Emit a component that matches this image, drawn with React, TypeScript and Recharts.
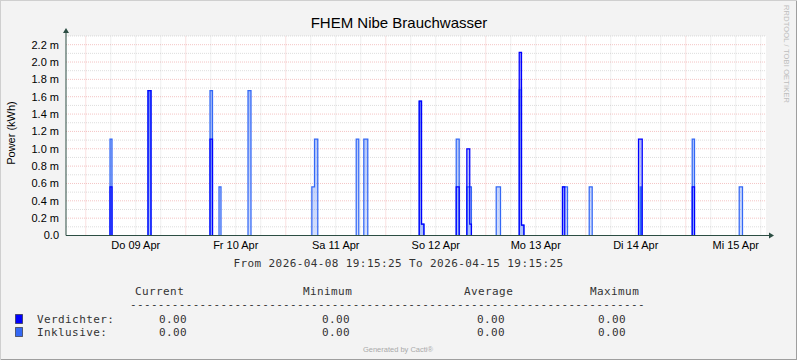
import React from "react";
import {
  ComposedChart,
  Line,
  Area,
  XAxis,
  YAxis,
  CartesianGrid,
  ReferenceLine,
  ReferenceDot,
} from "recharts";

const title = "FHEM Nibe Brauchwasser";
const yLabel = "Power (kWh)";
const fromLabel = "2026-04-08 19:15:25";
const toLabel = "2026-04-15 19:15:25";
const spanHours = 168;
// hours from graph start (19:15:25) to the next midnight
const firstMidnight = 24 - (19 + 15 / 60 + 25 / 3600);

const dayLabels = ["Do 09 Apr", "Fr 10 Apr", "Sa 11 Apr", "So 12 Apr", "Mo 13 Apr", "Di 14 Apr", "Mi 15 Apr"];
const yTicks = [0, 0.2, 0.4, 0.6, 0.8, 1.0, 1.2, 1.4, 1.6, 1.8, 2.0, 2.2];
const yMax = 2.3;

// pulses: hours since start, values in milli-kWh
const segStart = [10.56, 19.68, 34.56, 36.72, 43.68, 59.0, 59.64, 69.65, 71.47, 84.77, 85.32, 93.65, 96.2, 96.9, 103.25, 108.77, 109.32, 119.16, 119.7, 125.57, 137.4, 137.8, 138.1, 150.29, 161.57];
const segEnd = [11.04, 20.4, 35.16, 37.2, 44.4, 59.64, 60.43, 70.27, 72.43, 85.32, 85.9, 94.37, 96.9, 97.3, 104.28, 109.32, 109.9, 119.7, 120.36, 126.29, 137.8, 138.1, 138.3, 150.84, 162.36];
const verdichter = [0.56, 1.67, 1.11, 0, 0, 0, 0, 0, 0, 1.55, 0.13, 0.56, 1.0, 0.13, 0, 2.11, 0.12, 0.56, 0, 0, 1.11, 1.11, 1.11, 0.56, 0];
const inklusive = [1.11, 1.67, 1.67, 0.56, 1.67, 0.56, 1.11, 1.11, 1.11, 1.55, 0.13, 1.11, 0.56, 0.56, 0.56, 1.68, 0.12, 0.56, 0.56, 0.56, 0, 0.56, 0, 1.11, 0.56];

const statHeaders = ["Current", "Minimum", "Average", "Maximum"];
const verdichterStats = ["0.00", "0.00", "0.00", "0.00"];
const inklusiveStats = ["0.00", "0.00", "0.00", "0.00"];

const VERD = "#0000FF";
const INK = "#3468F5";
const AXIS = "#2C4D43";
const MINOR = "rgba(150,150,150,0.32)";
const MAJOR = "rgba(222,70,70,0.32)";

function buildData() {
  const rows: { t: number; v: number; i: number }[] = [{ t: 0, v: 0, i: 0 }];
  let prevEnd = -1;
  let pv = 0;
  let pi = 0;
  segStart.forEach((s, k) => {
    const touching = Math.abs(s - prevEnd) < 1e-6;
    if (!touching) {
      if (k > 0) rows.push({ t: prevEnd, v: 0, i: 0 });
      pv = 0;
      pi = 0;
    }
    rows.push({ t: s, v: pv, i: pi });
    rows.push({ t: s, v: verdichter[k], i: inklusive[k] });
    rows.push({ t: segEnd[k], v: verdichter[k], i: inklusive[k] });
    prevEnd = segEnd[k];
    pv = verdichter[k];
    pi = inklusive[k];
  });
  rows.push({ t: prevEnd, v: 0, i: 0 });
  rows.push({ t: spanHours, v: 0, i: 0 });
  return rows;
}

const data = buildData();

const minorY = Array.from({ length: 23 }, (_, k) => Math.round((k + 1) * 10) / 100);
const minorX: number[] = [];
for (let t = firstMidnight; t < spanHours; t += 6) minorX.push(t);
const labelTicks = dayLabels.map((_, k) => firstMidnight + 12 + 24 * k);

const XArrow = (p: any) => {
  const { cx, cy } = p;
  return (
    <g>
      <line x1={cx} y1={cy} x2={cx + 4} y2={cy} stroke={AXIS} />
      <path d={`M${cx + 3},${cy - 3} L${cx + 8},${cy} L${cx + 3},${cy + 3} Z`} fill={AXIS} />
    </g>
  );
};

const YArrow = (p: any) => {
  const { cx, cy } = p;
  return (
    <g>
      <line x1={cx} y1={cy} x2={cx} y2={cy - 4} stroke={AXIS} />
      <path d={`M${cx - 3},${cy - 3} L${cx},${cy - 8} L${cx + 3},${cy - 3} Z`} fill={AXIS} />
    </g>
  );
};

const sans = "'Liberation Sans', Arial, sans-serif";
const mono = "'DejaVu Sans Mono', monospace";
const monoStyle = { fontSize: 11, fontFamily: mono, fill: "#333", letterSpacing: 0.4 };
const statX = [159, 322, 477, 598];
const headX = [135, 303, 464, 590];

export default function App() {
  return (
    <div
      style={{
        position: "absolute",
        left: 0,
        top: 0,
        width: 797,
        height: 360,
        background: "#F3F3F3",
        boxShadow: "inset 1px 1px 0 #CFCFCF, inset -1px -1px 0 #9E9E9E",
      }}
    >
      <div style={{ position: "absolute", left: 0, top: 0 }}>
        <ComposedChart
          width={797}
          height={360}
          data={data}
          margin={{ top: 36, right: 31, left: 6, bottom: 104.5 }}
        >
          <defs>
            <linearGradient id="inkFill" x1="0" y1="0" x2="0" y2="1">
              <stop offset="0%" stopColor={INK} stopOpacity={0.75} />
              <stop offset="100%" stopColor={INK} stopOpacity={0.35} />
            </linearGradient>
            <linearGradient id="verdFill" x1="0" y1="0" x2="0" y2="1">
              <stop offset="0%" stopColor={VERD} stopOpacity={0.75} />
              <stop offset="100%" stopColor={INK} stopOpacity={0.4} />
            </linearGradient>
          </defs>
          <CartesianGrid fill="#FFFFFF" horizontal={false} vertical={false} />
          {minorY.map((y) => (
            <ReferenceLine
              key={"hy" + y}
              y={y}
              stroke={Math.round(y * 10) % 2 === 0 ? MAJOR : MINOR}
              strokeDasharray="1 1"
              zIndex={-50}
            />
          ))}
          {minorX.map((x, k) => (
            <ReferenceLine
              key={"vx" + k}
              x={x}
              stroke={k % 4 === 0 ? MAJOR : MINOR}
              strokeDasharray="1 1"
              zIndex={-50}
            />
          ))}
          <XAxis
            type="number"
            dataKey="t"
            domain={[0, spanHours]}
            ticks={labelTicks}
            tickFormatter={(_v: number, idx: number) => dayLabels[idx]}
            interval={0}
            height={20}
            tickLine={false}
            tickSize={4}
            tickMargin={2}
            axisLine={{ stroke: AXIS }}
            tick={{ fontSize: 11, fill: "#000", fontFamily: sans }}
            allowDataOverflow
          />
          <YAxis
            type="number"
            domain={[0, yMax]}
            ticks={yTicks}
            interval={0}
            width={60}
            tickFormatter={(v: number) => (v === 0 ? "0.0" : `${v.toFixed(1)} m`)}
            tickLine={false}
            tickSize={5}
            tickMargin={2}
            axisLine={{ stroke: AXIS }}
            tick={{ fontSize: 11, fill: "#000", fontFamily: sans }}
            allowDataOverflow
          />
          <Area
            type="linear"
            dataKey="i"
            stroke="none"
            fill="url(#inkFill)"
            isAnimationActive={false}
            dot={false}
            activeDot={false}
          />
          <Line
            type="linear"
            dataKey="i"
            stroke={INK}
            strokeWidth={1.25}
            dot={false}
            activeDot={false}
            isAnimationActive={false}
          />
          <Area
            type="linear"
            dataKey="v"
            stroke="none"
            fill="url(#verdFill)"
            isAnimationActive={false}
            dot={false}
            activeDot={false}
          />
          <Line
            type="linear"
            dataKey="v"
            stroke={VERD}
            strokeWidth={1.25}
            dot={false}
            activeDot={false}
            isAnimationActive={false}
          />
          <ReferenceDot x={spanHours} y={0} r={0} ifOverflow="visible" shape={XArrow} />
          <ReferenceDot x={0} y={yMax} r={0} ifOverflow="visible" shape={YArrow} />
        </ComposedChart>
      </div>
      <svg
        width={797}
        height={360}
        style={{ position: "absolute", left: 0, top: 0, pointerEvents: "none" }}
      >
        <text x={399} y={28} textAnchor="middle" fontSize={15} fontFamily={sans} fill="#000">
          {title}
        </text>
        <text
          x={15}
          y={133}
          transform="rotate(-90 15 133)"
          textAnchor="middle"
          fontSize={11}
          fontFamily={sans}
          fill="#000"
        >
          {yLabel}
        </text>
        <text
          x={784}
          y={54}
          transform="rotate(90 784 54)"
          textAnchor="middle"
          fontSize={7.5}
          fontFamily={sans}
          fill="#BDBDBD"
          textLength={98}
        >
          RRDTOOL / TOBI OETIKER
        </text>
        <text x={398.5} y={267} textAnchor="middle" style={monoStyle}>
          {`From ${fromLabel} To ${toLabel}`}
        </text>
        {statHeaders.map((h, k) => (
          <text key={h} x={headX[k]} y={294.5} style={monoStyle}>
            {h}
          </text>
        ))}
        <text x={130} y={307.5} style={monoStyle} textLength={515}>
          {"-".repeat(74)}
        </text>
        <rect x={15.5} y={314.5} width={7} height={9} fill={VERD} stroke="#222" strokeOpacity={0.6} />
        <text x={37} y={323} style={monoStyle}>
          Verdichter:
        </text>
        {verdichterStats.map((s, k) => (
          <text key={"v" + k} x={statX[k]} y={323} style={monoStyle}>
            {s}
          </text>
        ))}
        <rect x={15.5} y={327.5} width={7} height={9} fill={INK} stroke="#222" strokeOpacity={0.6} />
        <text x={37} y={336} style={monoStyle}>
          Inklusive:
        </text>
        {inklusiveStats.map((s, k) => (
          <text key={"i" + k} x={statX[k]} y={336} style={monoStyle}>
            {s}
          </text>
        ))}
        <text x={398} y={352} textAnchor="middle" fontSize={7.5} fontFamily={sans} fill="#AAAAAA">
          Generated by Cacti®
        </text>
      </svg>
    </div>
  );
}
